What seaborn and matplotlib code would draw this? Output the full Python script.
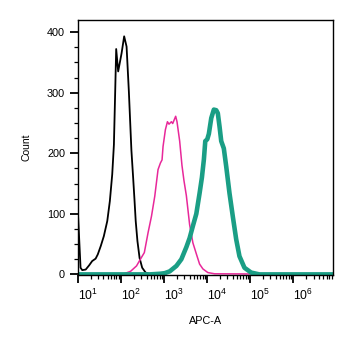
import numpy as np
import pandas as pd
import matplotlib
matplotlib.use("Agg")
import matplotlib.pyplot as plt
import matplotlib.ticker as mticker
import seaborn as sns

# log10(APC-A) positions and counts
black_log = [1.01, 1.07, 1.11, 1.19, 1.27, 1.34, 1.42, 1.47, 1.54, 1.61, 1.69, 1.75,
             1.805, 1.844, 1.874, 1.897, 1.943, 2.022, 2.082, 2.138, 2.191, 2.25,
             2.29, 2.32, 2.35, 2.39, 2.44, 2.50, 2.58, 2.70]
black_cnt = [101, 11, 7, 8, 15, 22, 26, 33, 47, 63, 88, 121,
             165, 214, 302, 372, 335, 365, 393, 376, 302, 205,
             160, 125, 88, 55, 27, 11, 3, 0]

magenta_log = [1.0, 2.036, 2.23, 2.369, 2.45, 2.55, 2.637, 2.716, 2.792, 2.868, 2.924,
               2.961, 2.984, 3.039, 3.086, 3.122, 3.178, 3.208, 3.231, 3.277, 3.308,
               3.37, 3.423, 3.469, 3.525, 3.601, 3.677, 3.756, 3.832, 3.909, 4.024,
               4.179, 6.93]
magenta_cnt = [0, 0, 5, 14, 24, 36, 69, 96, 129, 173, 184,
               189, 211, 239, 252, 248, 252, 249, 253, 261, 252,
               220, 180, 155, 130, 82, 52, 34, 17, 9, 3,
               1, 0]

teal_log = [1.0, 2.676, 2.908, 3.023, 3.139, 3.294, 3.409, 3.525, 3.601, 3.677, 3.756,
            3.832, 3.886, 3.932, 3.964, 4.010, 4.047, 4.103, 4.163, 4.218, 4.255,
            4.295, 4.334, 4.394, 4.450, 4.526, 4.602, 4.681, 4.757, 4.873, 5.028,
            5.22, 6.93]
teal_cnt = [0, 0, 1, 2, 5, 14, 25, 45, 60, 80, 100,
            134, 160, 190, 220, 223, 232, 258, 272, 271, 266,
            244, 220, 208, 178, 134, 96, 58, 30, 11, 3,
            0, 0]

x_ticks = [10, 100, 1000, 10000, 100000, 1000000]
x_tick_labels = ["$10^{1}$", "$10^{2}$", "$10^{3}$", "$10^{4}$", "$10^{5}$", "$10^{6}$"]
y_ticks = [0, 100, 200, 300, 400]

sns.set_style("ticks")
plt.rcParams["font.family"] = ["Liberation Sans", "DejaVu Sans"]
plt.rcParams["mathtext.default"] = "regular"
plt.rcParams["text.color"] = "black"
plt.rcParams["axes.labelcolor"] = "black"
plt.rcParams["xtick.color"] = "black"
plt.rcParams["ytick.color"] = "black"

fig = plt.figure(figsize=(3.54, 3.47), dpi=100)
ax = fig.add_axes([0.219, 0.2075, 0.722, 0.735])

series = [
    ("black", black_log, black_cnt, "#000000", 1.3),
    ("magenta", magenta_log, magenta_cnt, "#E8289A", 1.1),
    ("teal", teal_log, teal_cnt, "#1A9E85", 3.3),
]
for name, lg, cnt, col, lw in series:
    df = pd.DataFrame({"x": np.power(10.0, lg), "y": cnt})
    sns.lineplot(data=df, x="x", y="y", ax=ax, color=col, linewidth=lw,
                 estimator=None, sort=False, legend=False)

ax.set_xscale("log")
ax.set_xlim(10, 10 ** 6.93)
ax.set_ylim(-1, 420)

ax.set_xticks(x_ticks)
ax.set_xticklabels(x_tick_labels, fontsize=8.8, ha="left")
ax.xaxis.set_minor_locator(mticker.LogLocator(base=10, subs=np.arange(2, 10), numticks=20))
ax.xaxis.set_minor_formatter(mticker.NullFormatter())

ax.set_yticks(y_ticks)
ax.set_yticklabels([str(v) for v in y_ticks], fontsize=7.8)
ax.yaxis.set_minor_locator(mticker.MultipleLocator(25))

ax.tick_params(axis="both", which="major", direction="out", length=6, width=1.3,
               color="black", labelcolor="black")
ax.tick_params(axis="both", which="minor", direction="out", length=3, width=0.9, color="black")
ax.tick_params(axis="x", which="major", pad=3.5)
ax.tick_params(axis="y", which="major", pad=3)

for sp in ax.spines.values():
    sp.set_visible(True)
    sp.set_linewidth(1.0)
    sp.set_color("black")

ax.set_xlabel("APC-A", fontsize=7.8, labelpad=9, color="black")
ax.set_ylabel("Count", fontsize=7.5, labelpad=11, color="black")

fig.savefig("out.png", dpi=100)
